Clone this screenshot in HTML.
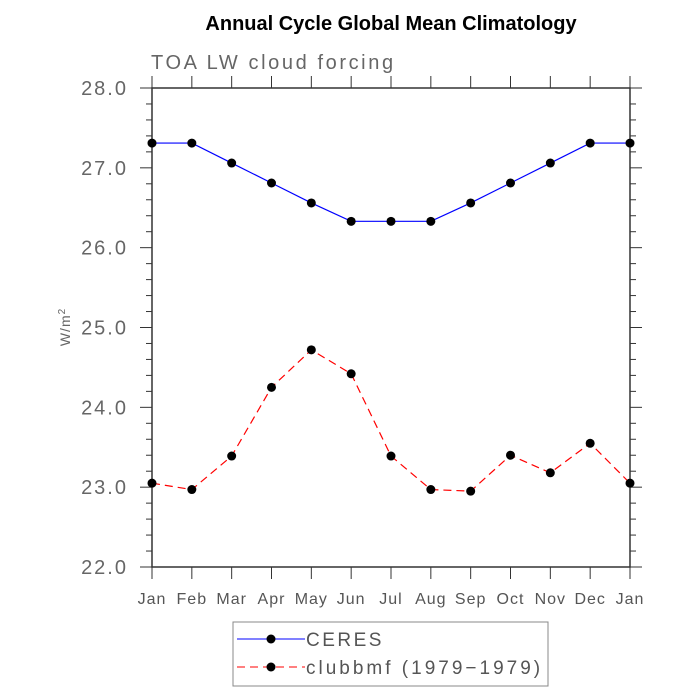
<!DOCTYPE html>
<html><head><meta charset="utf-8"><style>
body{margin:0;background:#fff}
svg{display:block;font-family:"Liberation Sans",sans-serif}
</style></head><body>
<svg id="c" width="700" height="700">
<text x="391" y="30" text-anchor="middle" font-size="20" font-weight="bold">Annual Cycle Global Mean Climatology</text>
<text x="151" y="69" font-size="20" fill="#666" letter-spacing="2.6">TOA LW cloud forcing</text>
<text transform="translate(70,327) rotate(-90)" text-anchor="middle" font-size="14" fill="#666" letter-spacing="1">W/m<tspan dy="-5" font-size="10">2</tspan></text>
<g id="axes"></g><g id="series"></g>
<rect x="233" y="622" width="315" height="64" fill="none" stroke="#888"/>
<g>
<line x1="237" y1="639" x2="305" y2="639" stroke="#0000ff"/><circle cx="271" cy="639" r="4.5"/>
<text x="306" y="646" font-size="19" fill="#555" letter-spacing="2.5">CERES</text></g>
<g>
<line x1="237" y1="667" x2="305" y2="667" stroke="#ff0000" stroke-dasharray="8,5"/><circle cx="271" cy="667" r="4.5"/>
<text x="306" y="674" font-size="19" fill="#555" letter-spacing="3">clubbmf (1979−1979)</text></g>
</svg>
<script>
const months=["Jan","Feb","Mar","Apr","May","Jun","Jul","Aug","Sep","Oct","Nov","Dec","Jan"];
const ceres=[27.31,27.31,27.06,26.81,26.56,26.33,26.33,26.33,26.56,26.81,27.06,27.31,27.31];
const clubb=[23.05,22.97,23.39,24.25,24.72,24.42,23.39,22.97,22.95,23.40,23.18,23.55,23.05];
const yTicks=["22.0","23.0","24.0","25.0","26.0","27.0","28.0"];
const NS="http://www.w3.org/2000/svg";
const X0=152,X1=630,Y0=567,Y1=88,YMIN=22,YMAX=28;
const xs=i=>X0+(X1-X0)*i/(months.length-1);
const ys=v=>Y0-(Y0-Y1)*(v-YMIN)/(YMAX-YMIN);
function mk(t,a,p){const e=document.createElementNS(NS,t);for(const k in a)e.setAttribute(k,a[k]);p.appendChild(e);return e;}
const ax=document.getElementById('axes'),se=document.getElementById('series');
const c="#333";
const frame=mk('rect',{x:X0,y:Y1,width:X1-X0,height:Y0-Y1,fill:'none',stroke:c,'stroke-width':1.5},ax);


for(let v=YMIN;v<=YMAX+1e-9;v+=0.2){
  const maj=Math.abs(v-Math.round(v))<1e-6,L=maj?12:6,y=ys(v);
  mk('line',{x1:X0-L,x2:X0,y1:y,y2:y,stroke:c},ax);
  mk('line',{x1:X1,x2:X1+L,y1:y,y2:y,stroke:c},ax);
}
yTicks.forEach(t=>{const e=mk('text',{x:128,y:ys(+t)+7,'text-anchor':'end','font-size':20,fill:'#666','letter-spacing':2},ax);e.textContent=t;

});
months.forEach((m,i)=>{const x=xs(i);
  mk('line',{x1:x,x2:x,y1:Y0,y2:Y0+12,stroke:c},ax);
  mk('line',{x1:x,x2:x,y1:Y1-12,y2:Y1,stroke:c},ax);
  const e=mk('text',{x:x,y:604,'text-anchor':'middle','font-size':16,fill:'#555','letter-spacing':1},ax);e.textContent=m;
  
  
});
function series(d,col,dash,name){
  const p=mk('polyline',{points:d.map((v,i)=>xs(i)+','+ys(v)).join(' '),fill:'none',stroke:col,'stroke-width':1.2},se);
  if(dash)p.setAttribute('stroke-dasharray',dash);
  
  
  d.forEach((v,i)=>{const m=mk('circle',{cx:xs(i),cy:ys(v),r:4.5},se);
    
    });
}
series(ceres,'#0000ff',null,'ceres');
series(clubb,'#ff0000','8,5','clubbmf');
</script>
</body></html>
